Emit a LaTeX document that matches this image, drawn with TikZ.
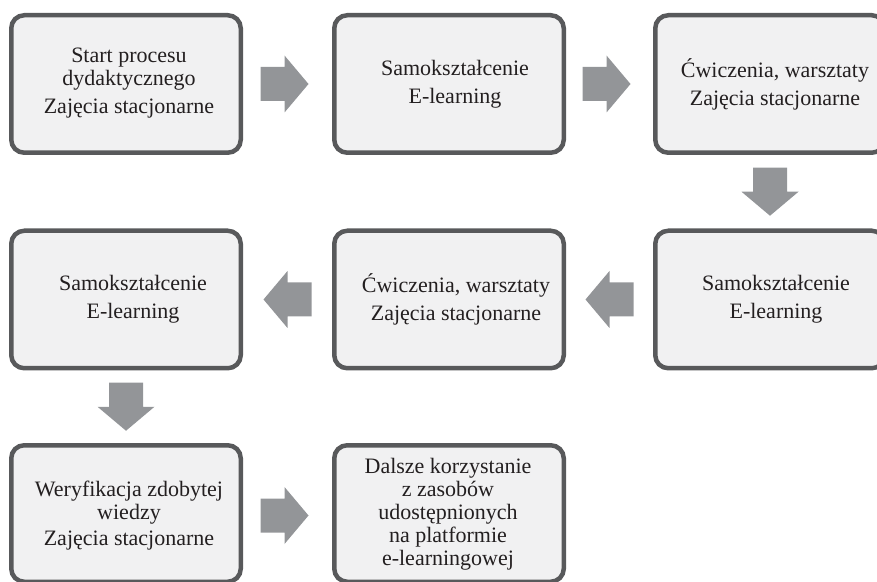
\documentclass[tikz,border=0pt]{standalone}
\usepackage{fontspec}
\setmainfont{Liberation Serif}
\usetikzlibrary{calc}
\definecolor{boxline}{HTML}{58595B}
\definecolor{boxfill}{HTML}{F1F1F2}
\definecolor{arrowgray}{HTML}{939598}
\definecolor{inkdark}{HTML}{231F20}

\begin{document}
\begin{tikzpicture}[x=1pt,y=1pt,
  stage/.style={draw=boxline, fill=boxfill, line width=4.5pt, rounded corners=13pt,
    minimum width=229.5pt, minimum height=137.5pt, inner sep=0pt, outer sep=0pt},
  caption/.style={align=center, font=\fontsize{22}{23}\selectfont, inner sep=0pt, text=inkdark},
  barrow/.pic={\fill[arrowgray] (-24,-17) -- (0,-17) -- (0,-28.5) -- (24,0)
     -- (0,28.5) -- (0,17) -- (-24,17) -- cycle;}
]
\useasboundingbox (0,0) rectangle (877,581);
\clip (0,0) rectangle (877,581);

% stages of the course
\node[stage] (b1) at (126,497) {};
\node[stage] (b2) at (449,497) {};
\node[stage] (b3) at (770,497) {};
\node[stage] (b4) at (770,281.5) {};
\node[stage] (b5) at (449,281.5) {};
\node[stage] (b6) at (126,281.5) {};
\node[stage, minimum height=136.5pt] (b7) at (126,67.5) {};
\node[stage, minimum height=136.5pt] (b8) at (449,67.5) {};

% captions
\node[caption] (t1) at (129,497.5) {Start procesu\\dydaktycznego\\[5pt]Zajęcia stacjonarne};
\node[caption] (t2) at (455,497) {Samokształcenie\\[5pt]E-learning};
\node[caption] (t3) at (775,497) {Ćwiczenia, warsztaty\\[5pt]Zajęcia stacjonarne};
\node[caption] (t4) at (776,282) {Samokształcenie\\[5pt]E-learning};
\node[caption] (t5) at (456,282) {Ćwiczenia, warsztaty\\[5pt]Zajęcia stacjonarne};
\node[caption] (t6) at (133,282) {Samokształcenie\\[5pt]E-learning};
\node[caption] (t7) at (129,65) {Weryfikacja zdobytej\\wiedzy\\[3pt]Zajęcia stacjonarne};
\node[caption] (t8) at (448,67) {Dalsze korzystanie\\z zasobów\\udostępnionych\\na platformie\\e-learningowej};

% block arrows between consecutive stages
\pic at ($(b1.east)!0.5!(b2.west)+(-3,0)$) {barrow};
\pic at ($(b2.east)!0.5!(b3.west)+(-3,0)$) {barrow};
\pic[rotate=-90] at ($(b3.south)!0.5!(b4.north)$) {barrow};
\pic[rotate=180] at ($(b4.west)!0.5!(b5.east)$) {barrow};
\pic[rotate=180] at ($(b5.west)!0.5!(b6.east)$) {barrow};
\pic[rotate=-90] at ($(b6.south)!0.5!(b7.north)$) {barrow};
\pic at ($(b7.east)!0.5!(b8.west)+(-3,-2)$) {barrow};
\end{tikzpicture}
\end{document}
